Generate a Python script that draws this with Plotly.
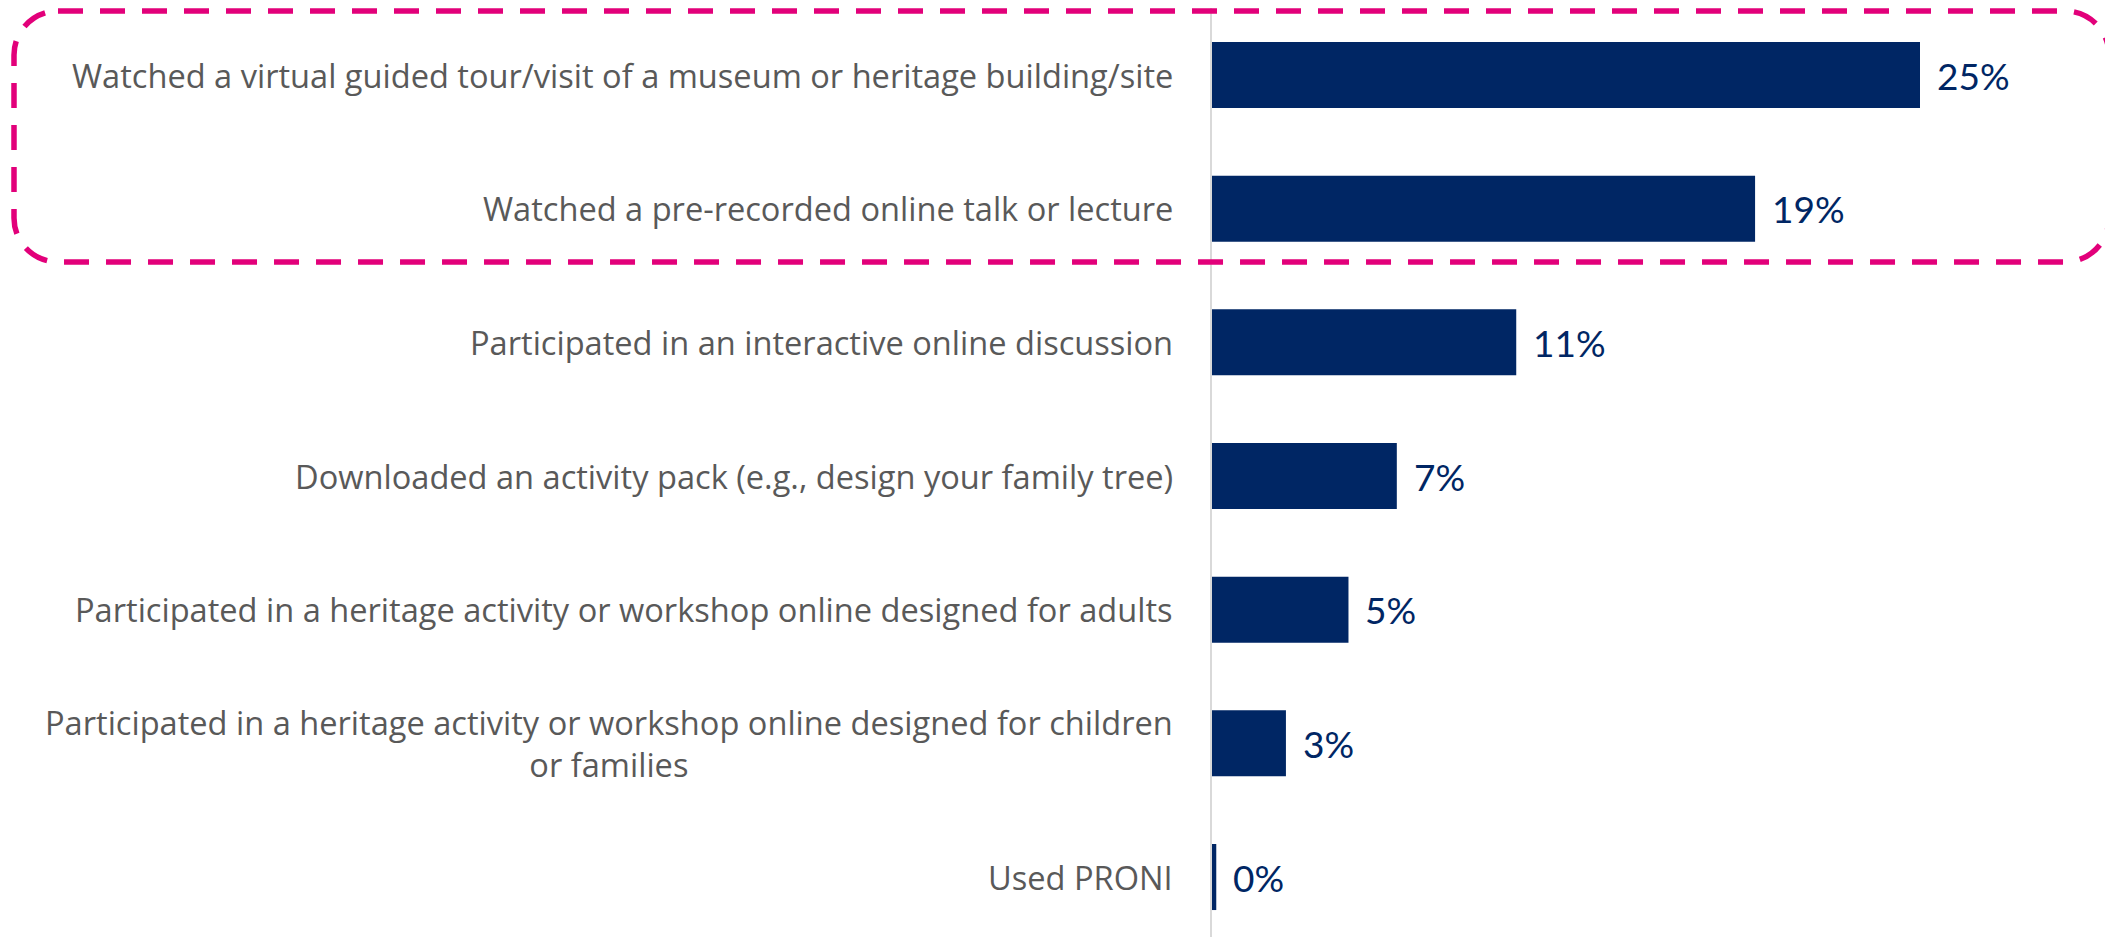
import math
import plotly.graph_objects as go

categories = [
    "Watched a virtual guided tour/visit of a museum or heritage building/site",
    "Watched a pre-recorded online talk or lecture",
    "Participated in an interactive online discussion",
    "Downloaded an activity pack (e.g., design your family tree)",
    "Participated in a heritage activity or workshop online designed for adults",
    "Participated in a heritage activity or workshop online designed for children<br>or families",
    "Used PRONI",
]
values = [24.9, 19.1, 10.7, 6.5, 4.8, 2.6, 0.15]

OFF = 8  # page body margin
W, H = 2113 - OFF, 937 - OFF
ML, MR = 1212 - OFF, 0
PW = W - ML - MR
PX_PER_UNIT = 708 / 24.9
X_MAX = PW / PX_PER_UNIT
ROW = 133.67
Y_TOP = -(75 - OFF) / ROW
Y_BOT = Y_TOP + H / ROW
BAR_COLOR = "#002664"
LABEL_COLOR = "#595959"
PINK = "#E2007A"

fig = go.Figure()
fig.add_trace(go.Bar(
    y=list(range(len(categories))),
    x=values,
    orientation="h",
    marker=dict(color=BAR_COLOR, line=dict(width=0)),
    hoverinfo="skip",
))

annotations = []
for i, (cat, v) in enumerate(zip(categories, values)):
    annotations.append(dict(
        x=0, xref="paper", y=i, yref="y",
        text=cat, showarrow=False, xanchor="right", yanchor="middle",
        align="center", xshift=-37,
        font=dict(family="Open Sans", size=32.6, color=LABEL_COLOR),
    ))
    annotations.append(dict(
        x=v, xref="x", y=i, yref="y",
        text=f"{math.floor(v + 0.5)}%", showarrow=False,
        xanchor="left", yanchor="middle", xshift=15,
        font=dict(family="Lato", size=37, color=BAR_COLOR),
    ))


def px2p(x, y):
    return (x - OFF - ML) / PW, 1 - (y - OFF) / H


def rounded_box(L, T, R, B, r):
    k = 0.5523 * r

    def P(x, y):
        px, py = px2p(x, y)
        return f"{px:.6f},{py:.6f}"
    segs = [
        f"M {P(L + r, T)}",
        f"L {P(R - r, T)}",
        f"C {P(R - r + k, T)} {P(R, T + r - k)} {P(R, T + r)}",
        f"L {P(R, B - r)}",
        f"C {P(R, B - r + k)} {P(R - r + k, B)} {P(R - r, B)}",
        f"L {P(L + r, B)}",
        f"C {P(L + r - k, B)} {P(L, B - r + k)} {P(L, B - r)}",
        f"L {P(L, T + r)}",
        f"C {P(L, T + r - k)} {P(L + r - k, T)} {P(L + r, T)} Z",
    ]
    return " ".join(segs)


shapes = [dict(
    type="path", xref="paper", yref="paper",
    path=rounded_box(14, 11, 2109, 262, 44),
    line=dict(color=PINK, width=5.5, dash="25px,17px"),
    fillcolor="rgba(0,0,0,0)",
    layer="above",
)]

fig.update_layout(
    width=W, height=H,
    margin=dict(l=ML, r=MR, t=0, b=0, pad=0),
    paper_bgcolor="white", plot_bgcolor="white",
    showlegend=False,
    bargap=0.506,
    xaxis=dict(range=[0, X_MAX], showgrid=False, zeroline=False,
               showticklabels=False, showline=False, fixedrange=True),
    yaxis=dict(range=[Y_BOT, Y_TOP], showgrid=False, zeroline=False,
               showticklabels=False, showline=True, linecolor="#d9d9d9",
               linewidth=2, fixedrange=True),
    annotations=annotations,
    shapes=shapes,
)

fig.write_html("out.html")
